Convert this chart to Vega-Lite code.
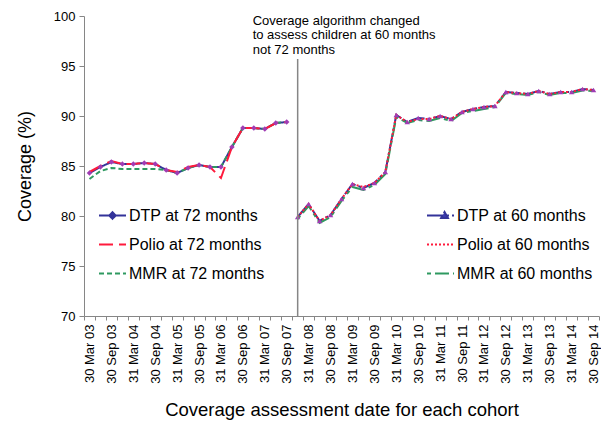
{
  "$schema": "https://vega.github.io/schema/vega-lite/v6.json",
  "width": 515,
  "height": 300,
  "autosize": "none",
  "padding": {"left": 84, "top": 16, "right": 2, "bottom": 105},
  "config": {
    "font": "Liberation Sans",
    "view": {"stroke": null},
    "axis": {"grid": false, "domainColor": "#868686", "tickColor": "#868686", "labelColor": "#000000", "titleColor": "#000000", "titleFontWeight": "normal"}
  },
  "datasets": {
    "cov72": [
      {"date": "30 Mar 03", "series": "DTP at 72 months", "value": 84.3},
      {"date": "30 Jun 03", "series": "DTP at 72 months", "value": 84.9},
      {"date": "30 Sep 03", "series": "DTP at 72 months", "value": 85.4},
      {"date": "31 Dec 03", "series": "DTP at 72 months", "value": 85.2},
      {"date": "31 Mar 04", "series": "DTP at 72 months", "value": 85.2},
      {"date": "30 Jun 04", "series": "DTP at 72 months", "value": 85.3},
      {"date": "30 Sep 04", "series": "DTP at 72 months", "value": 85.2},
      {"date": "31 Dec 04", "series": "DTP at 72 months", "value": 84.6},
      {"date": "31 Mar 05", "series": "DTP at 72 months", "value": 84.3},
      {"date": "30 Jun 05", "series": "DTP at 72 months", "value": 84.8},
      {"date": "30 Sep 05", "series": "DTP at 72 months", "value": 85.1},
      {"date": "31 Dec 05", "series": "DTP at 72 months", "value": 84.9},
      {"date": "31 Mar 06", "series": "DTP at 72 months", "value": 84.9},
      {"date": "30 Jun 06", "series": "DTP at 72 months", "value": 86.9},
      {"date": "30 Sep 06", "series": "DTP at 72 months", "value": 88.8},
      {"date": "31 Dec 06", "series": "DTP at 72 months", "value": 88.8},
      {"date": "31 Mar 07", "series": "DTP at 72 months", "value": 88.7},
      {"date": "30 Jun 07", "series": "DTP at 72 months", "value": 89.3},
      {"date": "30 Sep 07", "series": "DTP at 72 months", "value": 89.4},
      {"date": "30 Mar 03", "series": "MMR at 72 months", "value": 83.7},
      {"date": "30 Jun 03", "series": "MMR at 72 months", "value": 84.5},
      {"date": "30 Sep 03", "series": "MMR at 72 months", "value": 84.8},
      {"date": "31 Dec 03", "series": "MMR at 72 months", "value": 84.7},
      {"date": "31 Mar 04", "series": "MMR at 72 months", "value": 84.7},
      {"date": "30 Jun 04", "series": "MMR at 72 months", "value": 84.7},
      {"date": "30 Sep 04", "series": "MMR at 72 months", "value": 84.7},
      {"date": "31 Dec 04", "series": "MMR at 72 months", "value": 84.6},
      {"date": "31 Mar 05", "series": "MMR at 72 months", "value": 84.3},
      {"date": "30 Jun 05", "series": "MMR at 72 months", "value": 84.8},
      {"date": "30 Sep 05", "series": "MMR at 72 months", "value": 85.1},
      {"date": "31 Dec 05", "series": "MMR at 72 months", "value": 84.9},
      {"date": "31 Mar 06", "series": "MMR at 72 months", "value": 84.9},
      {"date": "30 Jun 06", "series": "MMR at 72 months", "value": 86.9},
      {"date": "30 Sep 06", "series": "MMR at 72 months", "value": 88.8},
      {"date": "31 Dec 06", "series": "MMR at 72 months", "value": 88.8},
      {"date": "31 Mar 07", "series": "MMR at 72 months", "value": 88.7},
      {"date": "30 Jun 07", "series": "MMR at 72 months", "value": 89.3},
      {"date": "30 Sep 07", "series": "MMR at 72 months", "value": 89.4},
      {"date": "30 Mar 03", "series": "Polio at 72 months", "value": 84.4},
      {"date": "30 Jun 03", "series": "Polio at 72 months", "value": 85.0},
      {"date": "30 Sep 03", "series": "Polio at 72 months", "value": 85.5},
      {"date": "31 Dec 03", "series": "Polio at 72 months", "value": 85.2},
      {"date": "31 Mar 04", "series": "Polio at 72 months", "value": 85.2},
      {"date": "30 Jun 04", "series": "Polio at 72 months", "value": 85.3},
      {"date": "30 Sep 04", "series": "Polio at 72 months", "value": 85.2},
      {"date": "31 Dec 04", "series": "Polio at 72 months", "value": 84.6},
      {"date": "31 Mar 05", "series": "Polio at 72 months", "value": 84.4},
      {"date": "30 Jun 05", "series": "Polio at 72 months", "value": 84.9},
      {"date": "30 Sep 05", "series": "Polio at 72 months", "value": 85.1},
      {"date": "31 Dec 05", "series": "Polio at 72 months", "value": 84.9},
      {"date": "31 Mar 06", "series": "Polio at 72 months", "value": 83.8},
      {"date": "30 Jun 06", "series": "Polio at 72 months", "value": 86.9},
      {"date": "30 Sep 06", "series": "Polio at 72 months", "value": 88.8},
      {"date": "31 Dec 06", "series": "Polio at 72 months", "value": 88.8},
      {"date": "31 Mar 07", "series": "Polio at 72 months", "value": 88.7},
      {"date": "30 Jun 07", "series": "Polio at 72 months", "value": 89.3},
      {"date": "30 Sep 07", "series": "Polio at 72 months", "value": 89.4}
    ],
    "cov60": [
      {"date": "31 Dec 07", "series": "DTP at 60 months", "value": 79.9},
      {"date": "31 Mar 08", "series": "DTP at 60 months", "value": 81.2},
      {"date": "30 Jun 08", "series": "DTP at 60 months", "value": 79.5},
      {"date": "30 Sep 08", "series": "DTP at 60 months", "value": 80.1},
      {"date": "31 Dec 08", "series": "DTP at 60 months", "value": 81.7},
      {"date": "31 Mar 09", "series": "DTP at 60 months", "value": 83.2},
      {"date": "30 Jun 09", "series": "DTP at 60 months", "value": 82.8},
      {"date": "30 Sep 09", "series": "DTP at 60 months", "value": 83.3},
      {"date": "31 Dec 09", "series": "DTP at 60 months", "value": 84.4},
      {"date": "31 Mar 10", "series": "DTP at 60 months", "value": 90.1},
      {"date": "30 Jun 10", "series": "DTP at 60 months", "value": 89.4},
      {"date": "30 Sep 10", "series": "DTP at 60 months", "value": 89.8},
      {"date": "31 Dec 10", "series": "DTP at 60 months", "value": 89.7},
      {"date": "31 Mar 11", "series": "DTP at 60 months", "value": 90.0},
      {"date": "30 Jun 11", "series": "DTP at 60 months", "value": 89.7},
      {"date": "30 Sep 11", "series": "DTP at 60 months", "value": 90.4},
      {"date": "31 Dec 11", "series": "DTP at 60 months", "value": 90.7},
      {"date": "31 Mar 12", "series": "DTP at 60 months", "value": 90.9},
      {"date": "30 Jun 12", "series": "DTP at 60 months", "value": 91.0},
      {"date": "30 Sep 12", "series": "DTP at 60 months", "value": 92.4},
      {"date": "31 Dec 12", "series": "DTP at 60 months", "value": 92.3},
      {"date": "31 Mar 13", "series": "DTP at 60 months", "value": 92.2},
      {"date": "30 Jun 13", "series": "DTP at 60 months", "value": 92.5},
      {"date": "30 Sep 13", "series": "DTP at 60 months", "value": 92.2},
      {"date": "31 Dec 13", "series": "DTP at 60 months", "value": 92.4},
      {"date": "31 Mar 14", "series": "DTP at 60 months", "value": 92.4},
      {"date": "30 Jun 14", "series": "DTP at 60 months", "value": 92.7},
      {"date": "30 Sep 14", "series": "DTP at 60 months", "value": 92.6},
      {"date": "31 Dec 07", "series": "MMR at 60 months", "value": 79.7},
      {"date": "31 Mar 08", "series": "MMR at 60 months", "value": 81.0},
      {"date": "30 Jun 08", "series": "MMR at 60 months", "value": 79.3},
      {"date": "30 Sep 08", "series": "MMR at 60 months", "value": 79.9},
      {"date": "31 Dec 08", "series": "MMR at 60 months", "value": 81.5},
      {"date": "31 Mar 09", "series": "MMR at 60 months", "value": 82.9},
      {"date": "30 Jun 09", "series": "MMR at 60 months", "value": 82.6},
      {"date": "30 Sep 09", "series": "MMR at 60 months", "value": 83.1},
      {"date": "31 Dec 09", "series": "MMR at 60 months", "value": 84.2},
      {"date": "31 Mar 10", "series": "MMR at 60 months", "value": 89.9},
      {"date": "30 Jun 10", "series": "MMR at 60 months", "value": 89.3},
      {"date": "30 Sep 10", "series": "MMR at 60 months", "value": 89.6},
      {"date": "31 Dec 10", "series": "MMR at 60 months", "value": 89.5},
      {"date": "31 Mar 11", "series": "MMR at 60 months", "value": 89.8},
      {"date": "30 Jun 11", "series": "MMR at 60 months", "value": 89.5},
      {"date": "30 Sep 11", "series": "MMR at 60 months", "value": 90.3},
      {"date": "31 Dec 11", "series": "MMR at 60 months", "value": 90.5},
      {"date": "31 Mar 12", "series": "MMR at 60 months", "value": 90.7},
      {"date": "30 Jun 12", "series": "MMR at 60 months", "value": 90.9},
      {"date": "30 Sep 12", "series": "MMR at 60 months", "value": 92.3},
      {"date": "31 Dec 12", "series": "MMR at 60 months", "value": 92.2},
      {"date": "31 Mar 13", "series": "MMR at 60 months", "value": 92.1},
      {"date": "30 Jun 13", "series": "MMR at 60 months", "value": 92.4},
      {"date": "30 Sep 13", "series": "MMR at 60 months", "value": 92.1},
      {"date": "31 Dec 13", "series": "MMR at 60 months", "value": 92.3},
      {"date": "31 Mar 14", "series": "MMR at 60 months", "value": 92.3},
      {"date": "30 Jun 14", "series": "MMR at 60 months", "value": 92.55},
      {"date": "30 Sep 14", "series": "MMR at 60 months", "value": 92.5},
      {"date": "31 Dec 07", "series": "Polio at 60 months", "value": 79.9},
      {"date": "31 Mar 08", "series": "Polio at 60 months", "value": 81.2},
      {"date": "30 Jun 08", "series": "Polio at 60 months", "value": 79.5},
      {"date": "30 Sep 08", "series": "Polio at 60 months", "value": 80.1},
      {"date": "31 Dec 08", "series": "Polio at 60 months", "value": 81.7},
      {"date": "31 Mar 09", "series": "Polio at 60 months", "value": 83.2},
      {"date": "30 Jun 09", "series": "Polio at 60 months", "value": 82.9},
      {"date": "30 Sep 09", "series": "Polio at 60 months", "value": 83.3},
      {"date": "31 Dec 09", "series": "Polio at 60 months", "value": 84.4},
      {"date": "31 Mar 10", "series": "Polio at 60 months", "value": 90.1},
      {"date": "30 Jun 10", "series": "Polio at 60 months", "value": 89.4},
      {"date": "30 Sep 10", "series": "Polio at 60 months", "value": 89.7},
      {"date": "31 Dec 10", "series": "Polio at 60 months", "value": 89.7},
      {"date": "31 Mar 11", "series": "Polio at 60 months", "value": 90.0},
      {"date": "30 Jun 11", "series": "Polio at 60 months", "value": 89.7},
      {"date": "30 Sep 11", "series": "Polio at 60 months", "value": 90.4},
      {"date": "31 Dec 11", "series": "Polio at 60 months", "value": 90.7},
      {"date": "31 Mar 12", "series": "Polio at 60 months", "value": 90.9},
      {"date": "30 Jun 12", "series": "Polio at 60 months", "value": 91.0},
      {"date": "30 Sep 12", "series": "Polio at 60 months", "value": 92.4},
      {"date": "31 Dec 12", "series": "Polio at 60 months", "value": 92.3},
      {"date": "31 Mar 13", "series": "Polio at 60 months", "value": 92.2},
      {"date": "30 Jun 13", "series": "Polio at 60 months", "value": 92.5},
      {"date": "30 Sep 13", "series": "Polio at 60 months", "value": 92.2},
      {"date": "31 Dec 13", "series": "Polio at 60 months", "value": 92.4},
      {"date": "31 Mar 14", "series": "Polio at 60 months", "value": 92.4},
      {"date": "30 Jun 14", "series": "Polio at 60 months", "value": 92.7},
      {"date": "30 Sep 14", "series": "Polio at 60 months", "value": 92.6}
    ]
  },
  "layer": [
    {
      "data": {"name": "cov72"},
      "layer": [
        {
          "mark": {"type": "line", "strokeWidth": 2},
          "encoding": {
            "x": {
              "field": "date", "type": "ordinal", "bandPosition": 0.5,
              "scale": {"type": "band", "paddingInner": 0, "paddingOuter": 0, "domain": ["30 Mar 03","30 Jun 03","30 Sep 03","31 Dec 03","31 Mar 04","30 Jun 04","30 Sep 04","31 Dec 04","31 Mar 05","30 Jun 05","30 Sep 05","31 Dec 05","31 Mar 06","30 Jun 06","30 Sep 06","31 Dec 06","31 Mar 07","30 Jun 07","30 Sep 07","31 Dec 07","31 Mar 08","30 Jun 08","30 Sep 08","31 Dec 08","31 Mar 09","30 Jun 09","30 Sep 09","31 Dec 09","31 Mar 10","30 Jun 10","30 Sep 10","31 Dec 10","31 Mar 11","30 Jun 11","30 Sep 11","31 Dec 11","31 Mar 12","30 Jun 12","30 Sep 12","31 Dec 12","31 Mar 13","30 Jun 13","30 Sep 13","31 Dec 13","31 Mar 14","30 Jun 14","30 Sep 14"]},
              "axis": {
                "title": "Coverage assessment date for each cohort",
                "labelAngle": -90,
                "labelExpr": "test(/Mar|Sep/, datum.label) ? datum.label : ''",
                "labelOverlap": false,
                "tickBand": "extent",
                "labelFontSize": 13,
                "tickSize": 4,
                "labelPadding": 4,
                "titleFontSize": 18.5,
                "titlePadding": 17
              }
            },
            "y": {
              "field": "value", "type": "quantitative",
              "scale": {"domain": [70, 100], "nice": false, "zero": false},
              "axis": {
                "title": "Coverage (%)",
                "values": [70, 75, 80, 85, 90, 95, 100],
                "tickSize": 5,
                "labelFontSize": 13,
                "labelPadding": 4,
                "titleFontSize": 18,
                "titlePadding": 19
              }
            },
            "color": {
              "field": "series", "type": "nominal",
              "scale": {"domain": ["DTP at 72 months", "Polio at 72 months", "MMR at 72 months"], "range": ["#333399", "#FF1A3C", "#2E9960"]},
              "legend": {"title": null, "orient": "none", "direction": "vertical", "legendX": 14, "legendY": 185, "symbolType": "stroke", "symbolSize": 729, "symbolStrokeWidth": 2, "labelFontSize": 16, "labelOffset": 2, "rowPadding": 6, "labelColor": "#000000", "padding": 0,
                "encode": {"symbols": {"update": {"shape": {"signal": "datum.value === 'DTP at 72 months' ? 'M-1,0H1M0,-0.24L0.24,0L0,0.24L-0.24,0Z' : 'stroke'"}, "fill": {"signal": "datum.value === 'DTP at 72 months' ? '#3A3AB0' : 'transparent'"}}}}}
            },
            "strokeDash": {
              "field": "series", "type": "nominal",
              "scale": {"domain": ["DTP at 72 months", "Polio at 72 months", "MMR at 72 months"], "range": [[1, 0], [14, 6], [5, 3]]},
              "legend": {"title": null, "orient": "none", "direction": "vertical", "legendX": 14, "legendY": 185, "symbolType": "stroke", "symbolSize": 729, "symbolStrokeWidth": 2, "labelFontSize": 16, "labelOffset": 2, "rowPadding": 6, "labelColor": "#000000", "padding": 0,
                "encode": {"symbols": {"update": {"shape": {"signal": "datum.value === 'DTP at 72 months' ? 'M-1,0H1M0,-0.24L0.24,0L0,0.24L-0.24,0Z' : 'stroke'"}, "fill": {"signal": "datum.value === 'DTP at 72 months' ? '#3A3AB0' : 'transparent'"}}}}}
            }
          }
        },
        {
          "transform": [{"filter": "datum.series === 'DTP at 72 months'"}],
          "mark": {"type": "point", "shape": "diamond", "filled": true, "size": 30, "color": "#A03CB4", "opacity": 1},
          "encoding": {
            "x": {"field": "date", "type": "ordinal", "bandPosition": 0.5},
            "y": {"field": "value", "type": "quantitative"}
          }
        }
      ]
    },
    {
      "data": {"name": "cov60"},
      "layer": [
        {
          "mark": {"type": "line", "strokeWidth": 2},
          "encoding": {
            "x": {"field": "date", "type": "ordinal", "bandPosition": 0.5},
            "y": {"field": "value", "type": "quantitative"},
            "color": {
              "field": "series", "type": "nominal",
              "scale": {"domain": ["DTP at 60 months", "Polio at 60 months", "MMR at 60 months"], "range": ["#333399", "#FF1A3C", "#2E9960"]},
              "legend": {"title": null, "orient": "none", "direction": "vertical", "legendX": 342, "legendY": 185, "symbolType": "stroke", "symbolSize": 729, "symbolStrokeWidth": 2, "labelFontSize": 16, "labelOffset": 2, "rowPadding": 6, "labelColor": "#000000", "padding": 0,
                "encode": {"symbols": {"update": {"shape": {"signal": "datum.value === 'DTP at 60 months' ? 'M-1,0H1M0.3,-0.26L0.55,0.18L0.05,0.18Z' : 'stroke'"}, "fill": {"signal": "datum.value === 'DTP at 60 months' ? '#3A3AB0' : 'transparent'"}}}}}
            },
            "strokeDash": {
              "field": "series", "type": "nominal",
              "scale": {"domain": ["DTP at 60 months", "Polio at 60 months", "MMR at 60 months"], "range": [[16, 3, 3, 3], [2, 2], [4, 4, 14, 4]]},
              "legend": {"title": null, "orient": "none", "direction": "vertical", "legendX": 342, "legendY": 185, "symbolType": "stroke", "symbolSize": 729, "symbolStrokeWidth": 2, "labelFontSize": 16, "labelOffset": 2, "rowPadding": 6, "labelColor": "#000000", "padding": 0,
                "encode": {"symbols": {"update": {"shape": {"signal": "datum.value === 'DTP at 60 months' ? 'M-1,0H1M0.3,-0.26L0.55,0.18L0.05,0.18Z' : 'stroke'"}, "fill": {"signal": "datum.value === 'DTP at 60 months' ? '#3A3AB0' : 'transparent'"}}}}}
            }
          }
        },
        {
          "transform": [{"filter": "datum.series === 'DTP at 60 months'"}],
          "mark": {"type": "point", "shape": "triangle-up", "filled": true, "size": 30, "color": "#A03CB4", "opacity": 1},
          "encoding": {
            "x": {"field": "date", "type": "ordinal", "bandPosition": 0.5},
            "y": {"field": "value", "type": "quantitative"}
          }
        }
      ]
    },
    {
      "data": {"values": [{}]},
      "mark": {"type": "rule", "color": "#868686", "strokeWidth": 1.5},
      "encoding": {
        "x": {"datum": "31 Dec 07", "type": "ordinal", "bandPosition": 0.5},
        "y": {"datum": 95.7, "type": "quantitative"},
        "y2": {"datum": 70}
      }
    },
    {
      "data": {"values": [{}]},
      "mark": {"type": "text", "align": "left", "baseline": "middle", "fontSize": 13, "lineHeight": 14.5, "dx": -45, "dy": 4.7, "color": "#000000", "text": ["Coverage algorithm changed", "\u00a0to assess children at 60 months", "\u00a0not 72 months"]},
      "encoding": {
        "x": {"datum": "31 Dec 07", "type": "ordinal", "bandPosition": 0.5},
        "y": {"datum": 100, "type": "quantitative"}
      }
    }
  ],
  "resolve": {
    "scale": {"color": "independent", "strokeDash": "independent"},
    "legend": {"color": "independent", "strokeDash": "independent"}
  }
}
